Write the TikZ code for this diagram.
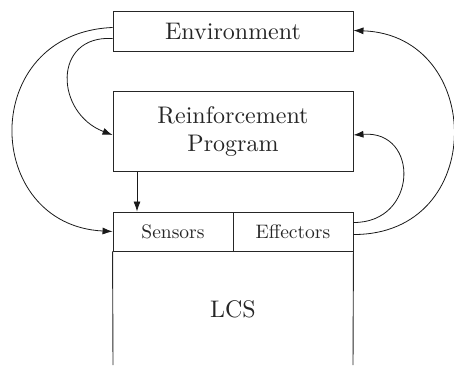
\documentclass[tikz,border=0pt]{standalone}
\usepackage{fontspec}
\setmainfont{lmroman10-regular}[Extension=.otf]
\usetikzlibrary{arrows.meta}
\begin{document}
\begin{tikzpicture}[x=1pt,y=1pt,
  box/.style={draw=black!85, line width=0.9pt, inner sep=0pt, text=black!85},
  conn/.style={draw=black!90, line width=0.8pt, -{Latex[length=10pt,width=7pt]}},
  big/.style={font=\fontsize{24}{28.5}\selectfont},
  small/.style={font=\fontsize{19.5}{23}\selectfont}]
\useasboundingbox (0,0) rectangle (454,365);
\node[box,big,minimum width=240pt,minimum height=40pt] (env) at (233,333.5) {Environment};
\node[box,big,minimum width=240pt,minimum height=80pt,align=center] (rp) at (233,233.5) {Reinforcement\\Program};
\node[box,small,minimum width=120pt,minimum height=39pt] (sens) at (173,133.5) {Sensors};
\node[box,small,minimum width=120pt,minimum height=39pt] (eff) at (293,133.5) {Effectors};
\coordinate (lcsl) at (113,0);
\coordinate (lcsr) at (353,0);
\draw[draw=black!85, line width=0.9pt] (sens.south west) -- (lcsl);
\draw[draw=black!85, line width=0.9pt] (eff.south east) -- (lcsr);
\node[big,text=black!85] (lcs) at (233,56) {LCS};
% connectors
\draw[conn] ([yshift=4pt]env.west) .. controls (-22,332) and (-18,140) .. (sens.west);
\draw[conn] ([yshift=-7pt]env.west) .. controls (52,330) and (55,252) .. ([yshift=-3.5pt]rp.west);
\draw[conn] ([xshift=-96pt]rp.south) -- ([xshift=-36pt]sens.north);
\draw[conn] ([yshift=9pt]eff.east) .. controls (418,142) and (420,235) .. ([yshift=-3.5pt]rp.east);
\draw[conn] ([yshift=-3pt]eff.east) .. controls (488,130) and (485,330) .. ([yshift=1pt]env.east);
\end{tikzpicture}
\end{document}
